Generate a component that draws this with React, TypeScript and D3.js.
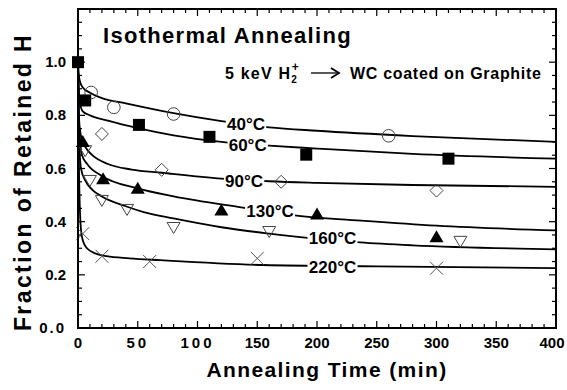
import React from 'react';
import * as d3 from 'd3';

type Pt = [number, number];

const xTicks = [0, 50, 100, 150, 200, 250, 300, 350, 400];
const yTicks = [0, 0.2, 0.4, 0.6, 0.8, 1.0];

// measured data points (time in min, fraction retained)
const pts40: Pt[] = [[11, 0.886], [30, 0.83], [80, 0.805], [260, 0.723]];
const pts60: Pt[] = [[0, 1.0], [6, 0.856], [51, 0.764], [110, 0.719], [191, 0.652], [310, 0.637]];
const pts90: Pt[] = [[20, 0.73], [70, 0.595], [170, 0.55], [300, 0.517]];
const pts130: Pt[] = [[4, 0.70], [21, 0.56], [50, 0.524], [120, 0.442], [200, 0.427], [300, 0.341]];
const pts160: Pt[] = [[6, 0.667], [10, 0.555], [20, 0.48], [41, 0.446], [80, 0.378], [160, 0.363], [320, 0.326]];
const pts220: Pt[] = [[4, 0.355], [20, 0.27], [60, 0.25], [150, 0.262], [300, 0.225]];

// fitted curves
const fit40: Pt[] = [[0, 1.0], [0.5, 0.96], [1.5, 0.93], [4, 0.905], [10, 0.885], [20, 0.865], [40, 0.845], [80, 0.808], [120, 0.778], [160, 0.755], [200, 0.742], [280, 0.722], [400, 0.7]];
const fit60: Pt[] = [[0, 1.0], [0.5, 0.92], [1.5, 0.85], [4, 0.815], [10, 0.8], [25, 0.78], [50, 0.752], [80, 0.725], [120, 0.7], [160, 0.686], [200, 0.675], [280, 0.655], [400, 0.637]];
const fit90: Pt[] = [[0, 1.0], [0.5, 0.84], [1.5, 0.75], [4, 0.7], [7, 0.675], [12, 0.65], [25, 0.617], [45, 0.596], [70, 0.584], [120, 0.562], [160, 0.552], [200, 0.546], [280, 0.538], [400, 0.531]];
const fit130: Pt[] = [[0, 1.0], [0.5, 0.82], [1.5, 0.72], [3.4, 0.65], [8, 0.615], [20, 0.572], [50, 0.525], [80, 0.495], [138, 0.453], [183, 0.423], [240, 0.403], [300, 0.385], [400, 0.367]];
const fit160: Pt[] = [[0, 1.0], [0.5, 0.78], [1.2, 0.68], [2.5, 0.6], [6, 0.555], [12, 0.52], [20, 0.495], [40, 0.458], [55, 0.436], [80, 0.412], [120, 0.379], [158, 0.356], [188, 0.341], [236, 0.322], [280, 0.311], [400, 0.296]];
const fit220: Pt[] = [[0, 1.0], [0.5, 0.7], [1, 0.55], [1.8, 0.42], [2.5, 0.37], [4, 0.33], [7.5, 0.3], [15, 0.28], [24, 0.27], [43, 0.262], [69, 0.255], [155, 0.237], [250, 0.232], [400, 0.225]];

const curveLabels = ['40°C', '60°C', '90°C', '130°C', '160°C', '220°C'];
const labelT = [140.6, 142, 139, 160.7, 213, 213];
const labelV = [0.767, 0.688, 0.553, 0.44, 0.338, 0.229];

const fits = [fit40, fit60, fit90, fit130, fit160, fit220];

const FONT = '"Liberation Sans", Arial, Helvetica, sans-serif';

const x = d3.scaleLinear().domain([0, 400]).range([78, 556]);
const y = d3.scaleLinear().domain([0, 1.2]).range([328, 9]);

const line = d3.line<Pt>()
  .x(d => x(d[0]))
  .y(d => y(d[1]))
  .curve(d3.curveMonotoneX);

const openStroke = '#444';

function Markers() {
  return (
    <g>
      {pts40.map((d, i) => (
        <circle key={'c' + i} cx={x(d[0])} cy={y(d[1])} r={6.3} fill="none" stroke={openStroke} strokeWidth={1} />
      ))}
      {pts90.map((d, i) => {
        const cx = x(d[0]), cy = y(d[1]), s = 6.5;
        return <path key={'d' + i} d={`M${cx},${cy - s}L${cx + s},${cy}L${cx},${cy + s}L${cx - s},${cy}Z`} fill="none" stroke={openStroke} strokeWidth={1} />;
      })}
      {pts160.map((d, i) => {
        const cx = x(d[0]), cy = y(d[1]);
        return <path key={'v' + i} d={`M${cx - 6.5},${cy - 5}L${cx + 6.5},${cy - 5}L${cx},${cy + 6}Z`} fill="none" stroke={openStroke} strokeWidth={1} />;
      })}
      {pts220.map((d, i) => {
        const cx = x(d[0]), cy = y(d[1]), s = 6.5;
        return <path key={'x' + i} d={`M${cx - s},${cy - s}L${cx + s},${cy + s}M${cx - s},${cy + s}L${cx + s},${cy - s}`} fill="none" stroke="#555" strokeWidth={1} />;
      })}
      {pts130.map((d, i) => {
        const cx = x(d[0]), cy = y(d[1]);
        return <path key={'t' + i} d={`M${cx},${cy - 7}L${cx + 7},${cy + 5}L${cx - 7},${cy + 5}Z`} fill="#000" />;
      })}
      {pts60.map((d, i) => (
        <rect key={'s' + i} x={x(d[0]) - 6} y={y(d[1]) - 6} width={12} height={12} fill="#000" />
      ))}
    </g>
  );
}

export default function App() {
  const xMinor = d3.range(0, 401, 10);
  const yMinor = d3.range(0, 1.2001, 0.05);
  return (
    <svg width={567} height={390} style={{ position: 'absolute', left: 0, top: 0, background: '#fff' }} fontFamily={FONT}>
      <rect width={567} height={390} fill="#fff" />

      {/* curves */}
      {fits.map((f, i) => (
        <path key={i} d={line(f) || ''} fill="none" stroke="#000" strokeWidth={1.8} />
      ))}

      {/* curve labels with white knockout */}
      {curveLabels.map((t, i) => {
        const cx = x(labelT[i]), cy = y(labelV[i]);
        const w = t.length * 9.6 + 2;
        return (
          <g key={t}>
            <rect x={cx - w / 2} y={cy - 8} width={w} height={16} fill="#fff" />
            <text x={cx} y={cy + 6} textAnchor="middle" fontSize={17} fontWeight="bold">{t}</text>
          </g>
        );
      })}

      <Markers />

      {/* frame */}
      <rect x={78} y={9} width={478} height={319} fill="none" stroke="#000" strokeWidth={2} />

      {/* ticks */}
      {xMinor.map(t => {
        const len = t % 50 === 0 ? 7 : 4;
        return (
          <g key={'xt' + t}>
            <line x1={x(t)} x2={x(t)} y1={328} y2={328 - len} stroke="#000" strokeWidth={1.2} />
            <line x1={x(t)} x2={x(t)} y1={9} y2={9 + len} stroke="#000" strokeWidth={1.2} />
          </g>
        );
      })}
      {yMinor.map((v, i) => {
        const len = i % 4 === 0 ? 7 : 4;
        return (
          <g key={'yt' + i}>
            <line x1={78} x2={78 + len} y1={y(v)} y2={y(v)} stroke="#000" strokeWidth={1.2} />
            <line x1={556} x2={556 - len} y1={y(v)} y2={y(v)} stroke="#000" strokeWidth={1.2} />
          </g>
        );
      })}

      {/* tick labels */}
      {xTicks.map(t => (
        <text key={'xl' + t} x={Math.min(x(t), 552)} y={348} textAnchor="middle" fontSize={15} fontWeight="bold"
          letterSpacing={t === 50 || t === 100 ? 3 : 0}>{t}</text>
      ))}
      {yTicks.map(v => (
        <text key={'yl' + v} x={66} y={y(v) + 5} textAnchor="end" fontSize={15} fontWeight="bold"
          letterSpacing={v === 0 ? 2 : 0}>{v.toFixed(1)}</text>
      ))}

      {/* axis titles */}
      <text x={(78 + 556) / 2 + 10} y={377} textAnchor="middle" fontSize={21} fontWeight="bold" letterSpacing={1.4}>
        Annealing Time (min)
      </text>
      <text transform={`translate(31,182) rotate(-90)`} textAnchor="middle" fontSize={23} fontWeight="bold" letterSpacing={2.4}>
        Fraction of Retained H
      </text>

      {/* annotations */}
      <text x={103} y={43} fontSize={22} fontWeight="bold" letterSpacing={1.3}>Isothermal  Annealing</text>
      <text x={225} y={79} fontSize={16} fontWeight="bold" letterSpacing={1.2}>
        5 keV H
        <tspan fontSize={10} dy={4} letterSpacing={0}>2</tspan>
        <tspan fontSize={12} dy={-12} dx={-5} letterSpacing={0}>+</tspan>
      </text>
      <line x1={311} x2={338} y1={73} y2={73} stroke="#000" strokeWidth={1.3} />
      <path d="M331,68 L339,73 L331,78" fill="none" stroke="#000" strokeWidth={1.8} />
      <text x={350} y={79} fontSize={16} fontWeight="bold" letterSpacing={0.7}>WC coated on Graphite</text>
    </svg>
  );
}
